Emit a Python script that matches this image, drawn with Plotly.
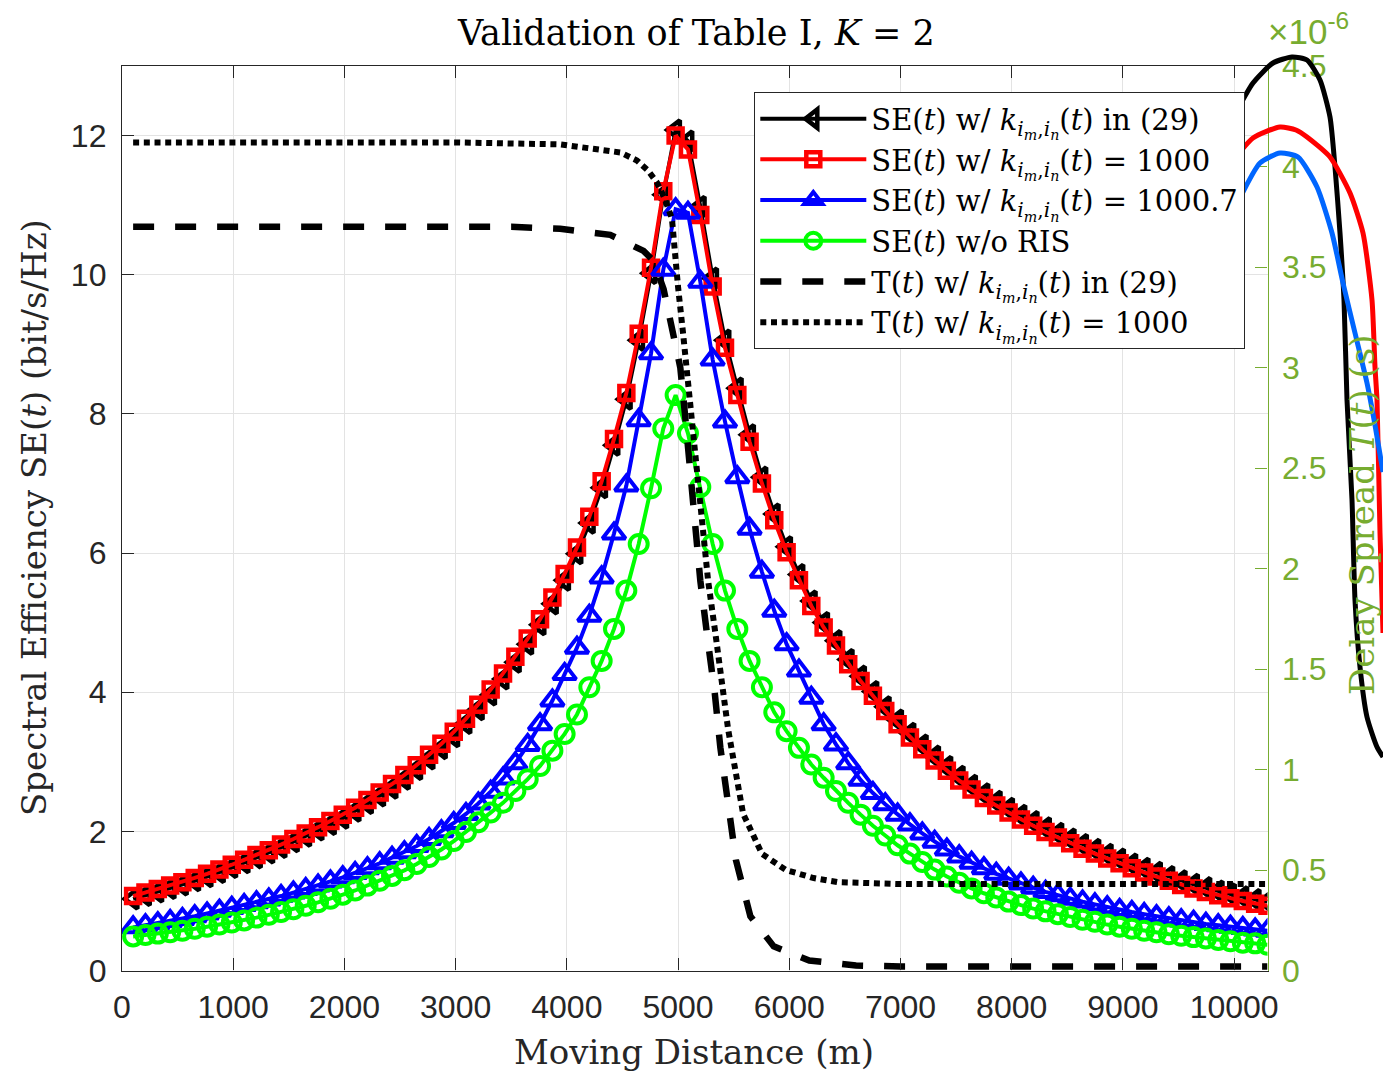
import plotly.graph_objects as go

W, H = 1383, 1073

# ---------------- data ----------------
distance = [100, 211, 322, 433, 543, 654, 765, 876, 987, 1098, 1209, 1320, 1430, 1541, 1652,
            1763, 1874, 1985, 2096, 2207, 2317, 2428, 2539, 2650, 2761, 2872, 2983, 3093, 3204,
            3315, 3426, 3537, 3648, 3759, 3870, 3980, 4091, 4202, 4313, 4424, 4535, 4646, 4757,
            4867, 4978, 5089, 5200, 5311, 5422, 5533, 5643, 5754, 5865, 5976, 6087, 6198, 6309,
            6420, 6530, 6641, 6752, 6863, 6974, 7085, 7196, 7307, 7417, 7528, 7639, 7750, 7861,
            7972, 8083, 8193, 8304, 8415, 8526, 8637, 8748, 8859, 8970, 9080, 9191, 9302, 9413,
            9524, 9635, 9746, 9857, 9967, 10078, 10189, 10300]

se_k29 = [1.03, 1.08, 1.13, 1.18, 1.23, 1.29, 1.35, 1.41, 1.48, 1.55, 1.62, 1.69, 1.77, 1.85, 1.93,
          2.02, 2.10, 2.19, 2.29, 2.40, 2.51, 2.62, 2.75, 2.89, 3.04, 3.19, 3.36, 3.55, 3.75,
          3.96, 4.19, 4.43, 4.69, 4.97, 5.27, 5.61, 5.99, 6.43, 6.94, 7.55, 8.21, 9.06, 10.02,
          11.15, 12.08, 11.92, 10.98, 9.95, 9.06, 8.37, 7.70, 7.09, 6.56, 6.09, 5.69, 5.31, 5.00,
          4.74, 4.47, 4.23, 4.01, 3.79, 3.60, 3.41, 3.24, 3.08, 2.93, 2.79, 2.66, 2.54, 2.43,
          2.33, 2.23, 2.14, 2.05, 1.97, 1.89, 1.81, 1.74, 1.67, 1.60, 1.53, 1.47, 1.41, 1.35,
          1.29, 1.24, 1.19, 1.14, 1.10, 1.06, 1.02, 0.99]

se_k1000 = [1.07, 1.12, 1.17, 1.22, 1.27, 1.33, 1.39, 1.45, 1.52, 1.59, 1.66, 1.73, 1.81, 1.89, 1.97,
            2.06, 2.15, 2.24, 2.34, 2.45, 2.56, 2.68, 2.81, 2.95, 3.10, 3.26, 3.43, 3.62, 3.82,
            4.04, 4.27, 4.51, 4.77, 5.05, 5.36, 5.70, 6.08, 6.52, 7.03, 7.64, 8.30, 9.15, 10.10,
            11.20, 12.00, 11.80, 10.86, 9.83, 8.95, 8.27, 7.60, 7.00, 6.47, 6.01, 5.61, 5.24, 4.93,
            4.67, 4.40, 4.16, 3.95, 3.73, 3.54, 3.35, 3.18, 3.02, 2.87, 2.73, 2.60, 2.48, 2.37,
            2.27, 2.17, 2.08, 1.99, 1.91, 1.83, 1.75, 1.68, 1.61, 1.54, 1.47, 1.41, 1.35, 1.29,
            1.23, 1.18, 1.13, 1.08, 1.04, 1.00, 0.96, 0.93]

se_k10007 = [0.62, 0.65, 0.68, 0.71, 0.74, 0.78, 0.82, 0.86, 0.90, 0.94, 0.98, 1.02, 1.07, 1.12, 1.17,
             1.22, 1.28, 1.34, 1.40, 1.47, 1.54, 1.62, 1.70, 1.79, 1.89, 2.00, 2.12, 2.25, 2.40,
             2.57, 2.76, 2.98, 3.24, 3.54, 3.88, 4.26, 4.64, 5.10, 5.65, 6.28, 6.97, 7.91, 8.87,
             10.07, 10.94, 10.89, 9.90, 8.78, 7.89, 7.09, 6.35, 5.73, 5.17, 4.69, 4.31, 3.92, 3.54,
             3.25, 2.98, 2.74, 2.55, 2.39, 2.24, 2.10, 1.97, 1.85, 1.74, 1.64, 1.55, 1.47, 1.39,
             1.32, 1.25, 1.19, 1.13, 1.08, 1.03, 0.99, 0.95, 0.91, 0.87, 0.84, 0.81, 0.78, 0.75,
             0.72, 0.70, 0.67, 0.65, 0.63, 0.61, 0.59, 0.57]

se_noris = [0.49, 0.51, 0.53, 0.55, 0.57, 0.60, 0.63, 0.66, 0.69, 0.72, 0.76, 0.80, 0.84, 0.88, 0.93,
            0.98, 1.03, 1.09, 1.15, 1.22, 1.29, 1.36, 1.44, 1.53, 1.63, 1.74, 1.86, 1.99, 2.13,
            2.27, 2.41, 2.58, 2.75, 2.94, 3.16, 3.40, 3.68, 4.07, 4.45, 4.91, 5.46, 6.13, 6.93,
            7.79, 8.27, 7.72, 6.95, 6.13, 5.46, 4.91, 4.45, 4.07, 3.71, 3.44, 3.20, 2.96, 2.77,
            2.58, 2.41, 2.24, 2.08, 1.94, 1.80, 1.68, 1.56, 1.45, 1.35, 1.26, 1.18, 1.11, 1.05,
            0.99, 0.94, 0.89, 0.85, 0.81, 0.77, 0.73, 0.70, 0.66, 0.63, 0.60, 0.57, 0.55, 0.52,
            0.50, 0.48, 0.46, 0.44, 0.42, 0.40, 0.39, 0.37]

# delay spread (units of 1e-6 s)
t29_x = [100, 1000, 2000, 3000, 3500, 3940, 4390, 4690, 4780, 4870, 4960, 5020, 5060, 5130, 5200,
         5270, 5330, 5380, 5440, 5520, 5650, 5860, 6180, 6600, 7000, 8000, 9000, 10300]
t29_y = [3.70, 3.70, 3.70, 3.70, 3.70, 3.69, 3.66, 3.58, 3.53, 3.39, 3.17, 3.00, 2.78, 2.38, 1.94,
         1.63, 1.38, 1.11, 0.88, 0.55, 0.27, 0.12, 0.05, 0.025, 0.02, 0.02, 0.02, 0.02]

t1000_x = [100, 1000, 2000, 3000, 3940, 4240, 4480, 4630, 4730, 4810, 4880, 4945, 4975, 5000, 5045,
           5090, 5135, 5155, 5215, 5270, 5335, 5395, 5450, 5530, 5585, 5755, 5970, 6220, 6430,
           7000, 8000, 9000, 10300]
t1000_y = [4.12, 4.12, 4.12, 4.12, 4.11, 4.09, 4.07, 4.03, 3.98, 3.92, 3.84, 3.74, 3.59, 3.40, 3.17,
           2.92, 2.68, 2.61, 2.23, 1.94, 1.68, 1.44, 1.20, 0.95, 0.78, 0.58, 0.50, 0.46, 0.44,
           0.43, 0.43, 0.43, 0.43]

# stray curves visible at the right edge of the picture (separate, unlabeled overlay)
stray_black_x = [1233, 1253, 1273, 1292, 1307, 1320, 1330, 1335, 1340, 1344, 1347, 1352, 1355, 1360, 1367, 1377, 1383]
stray_black_y = [118, 83, 63, 57, 60, 80, 117, 167, 233, 300, 400, 500, 600, 667, 717, 747, 757]
stray_red_x = [1232, 1253, 1280, 1296, 1307, 1330, 1350, 1363, 1372, 1375, 1377, 1380, 1383]
stray_red_y = [162, 138, 127, 130, 137, 157, 193, 233, 300, 367, 400, 533, 633]
stray_blue_x = [1240, 1260, 1280, 1298, 1317, 1332, 1343, 1355, 1367, 1375, 1383]
stray_blue_y = [198, 163, 153, 157, 187, 233, 283, 333, 383, 425, 472]

# ---------------- layout helpers ----------------
def fx(p):
    return p / W


def fy(p):
    return 1 - p / H


AX_L, AX_R, AX_T, AX_B = 122, 1267.5, 66, 970.5
GREEN = '#77AC30'
DARK = '#262626'
SERIF = 'DejaVu Serif, Liberation Serif, serif'
SANS = 'Liberation Sans, Arial, sans-serif'

k_sub = "<i>k</i><sub><i>i</i><sub><i>m</i></sub>,<i>i</i><sub><i>n</i></sub></sub>(<i>t</i>)"

fig = go.Figure()

fig.add_trace(go.Scatter(
    x=distance, y=se_k29, mode='lines+markers', name=f"SE(<i>t</i>) w/ {k_sub} in (29)",
    line=dict(color='black', width=4),
    marker=dict(symbol='triangle-left-open', size=17, color='black', line=dict(width=4.5, color='black'))))
fig.add_trace(go.Scatter(
    x=distance, y=se_k1000, mode='lines+markers', name=f"SE(<i>t</i>) w/ {k_sub} = 1000",
    line=dict(color='#FF0000', width=4),
    marker=dict(symbol='square-open', size=14, color='#FF0000', line=dict(width=4.5, color='#FF0000'))))
fig.add_trace(go.Scatter(
    x=distance, y=se_k10007, mode='lines+markers', name=f"SE(<i>t</i>) w/ {k_sub} = 1000.7",
    line=dict(color='#0000FF', width=4),
    marker=dict(symbol='triangle-up-open', size=20, color='#0000FF', line=dict(width=4, color='#0000FF'))))
fig.add_trace(go.Scatter(
    x=distance, y=se_noris, mode='lines+markers', name="SE(<i>t</i>) w/o RIS",
    line=dict(color='#00FF00', width=4),
    marker=dict(symbol='circle-open', size=18, color='#00FF00', line=dict(width=4, color='#00FF00'))))
fig.add_trace(go.Scatter(
    x=t29_x, y=t29_y, mode='lines', yaxis='y2', name=f"T(<i>t</i>) w/ {k_sub} in (29)",
    line=dict(color='black', width=6.5, dash='21px,21px')))
fig.add_trace(go.Scatter(
    x=t1000_x, y=t1000_y, mode='lines', yaxis='y2', name=f"T(<i>t</i>) w/ {k_sub} = 1000",
    line=dict(color='black', width=6, dash='6px,4.7px')))

for sx, sy, col in [(stray_black_x, stray_black_y, 'black'),
                    (stray_red_x, stray_red_y, '#FF0000'),
                    (stray_blue_x, stray_blue_y, '#0066FF')]:
    fig.add_trace(go.Scatter(x=sx, y=sy, mode='lines', xaxis='x3', yaxis='y3', showlegend=False,
                             line=dict(color=col, width=5, shape='spline', smoothing=0.6),
                             hoverinfo='skip'))

fig.update_layout(
    width=W, height=H,
    margin=dict(l=0, r=0, t=0, b=0, autoexpand=False),
    paper_bgcolor='white', plot_bgcolor='rgba(0,0,0,0)',
    font=dict(family=SANS, color=DARK),
    showlegend=True,
    xaxis=dict(domain=[fx(AX_L), fx(AX_R)], range=[0, 10300], tickvals=list(range(0, 10001, 1000)),
               tickformat='d', automargin=False, ticklabelstandoff=8,
               ticks='inside', ticklen=12, tickcolor=DARK, showline=True, linecolor=DARK, linewidth=1.3,
               mirror='ticks', showgrid=True, gridcolor='#E3E3E3', gridwidth=1, zeroline=False,
               tickfont=dict(family=SANS, size=32, color=DARK), anchor='y'),
    yaxis=dict(domain=[fy(AX_B), fy(AX_T)], range=[0, 13], tickvals=[0, 2, 4, 6, 8, 10, 12],
               automargin=False, ticklabelstandoff=8,
               ticks='inside', ticklen=12, tickcolor=DARK, showline=True, linecolor=DARK, linewidth=1.3,
               showgrid=True, gridcolor='#E3E3E3', gridwidth=1, zeroline=False,
               tickfont=dict(family=SANS, size=32, color=DARK), anchor='x'),
    yaxis2=dict(overlaying='y', side='right', anchor='x', range=[0, 4.5], dtick=0.5, automargin=False,
                ticklabelstandoff=7,
                ticks='inside', ticklen=12, tickcolor=GREEN, showline=True, linecolor=GREEN, linewidth=1.3,
                showgrid=False, zeroline=False, tickfont=dict(family=SANS, size=32, color=GREEN)),
    xaxis3=dict(domain=[fx(1200), 1.0], range=[1200, 1383], visible=False, anchor='y3', fixedrange=True),
    yaxis3=dict(domain=[0.0, 1.0], range=[H, 0], visible=False, anchor='x3', fixedrange=True),
    legend=dict(x=fx(1245), y=fy(92), xanchor='right', yanchor='top', bgcolor='white',
                bordercolor=DARK, borderwidth=1.3, font=dict(family=SERIF, size=29, color='black'),
                itemwidth=106, tracegroupgap=0),
)

annotations = [
    dict(text="Validation of Table I, <i>K</i> = 2", x=fx(696), y=fy(33), xref='paper', yref='paper',
         showarrow=False, font=dict(family=SERIF, size=35, color='black'), xanchor='center', yanchor='middle'),
    dict(text="Moving Distance (m)", x=fx(694), y=fy(1052), xref='paper', yref='paper',
         showarrow=False, font=dict(family=SERIF, size=34, color=DARK), xanchor='center', yanchor='middle'),
    dict(text="Spectral Efficiency SE(<i>t</i>) (bit/s/Hz)", x=fx(34), y=fy(518), xref='paper', yref='paper',
         showarrow=False, textangle=-90, font=dict(family=SERIF, size=34, color=DARK),
         xanchor='center', yanchor='middle'),
    dict(text="Delay Spread <i>T</i>(<i>t</i>) (s)", x=fx(1362), y=fy(515), xref='paper', yref='paper',
         showarrow=False, textangle=-90, font=dict(family=SERIF, size=34, color=GREEN),
         xanchor='center', yanchor='middle'),
    dict(text="×10<sup>-6</sup>", x=fx(1266), y=fy(29), xref='paper', yref='paper',
         showarrow=False, font=dict(family=SANS, size=35, color=GREEN), xanchor='left', yanchor='middle'),
]
fig.update_layout(annotations=annotations)

fig.write_html("out.html")
